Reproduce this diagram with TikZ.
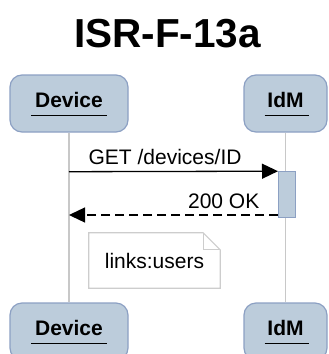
\documentclass[tikz,border=0pt]{standalone}
\usepackage{fontspec}
\setmainfont{Liberation Sans}
\usetikzlibrary{arrows.meta,calc}

\definecolor{actorfill}{RGB}{188,204,219}
\definecolor{actorline}{RGB}{140,160,195}
\definecolor{lifegray}{RGB}{200,200,200}
\definecolor{notegray}{RGB}{205,205,205}

\tikzset{
	actor/.style = {draw = actorline, fill = actorfill, rounded corners = 12pt, line width = 1.2pt,
		font = \fontsize{21}{25}\selectfont\bfseries, text depth = 7.5pt, minimum height = 57pt},
	lifeline/.style = {draw = lifegray, line width = 1.2pt},
	msg/.style = {line width = 1.3pt, -{Triangle[length=16pt, width=15pt]}},
	msglbl/.style = {font = \fontsize{21}{25}\selectfont, inner sep = 0pt},
}

\begin{document}
\begin{tikzpicture}[x = 1pt, y = -1pt]
	
	\useasboundingbox (0, 0) rectangle (329, 354);
	
	\node[anchor = base, font = \fontsize{40.5}{48}\selectfont\bfseries] (title) at (167.5, 47) {ISR-F-13a};
	
	% participants
	\node[actor, minimum width = 118pt] (devTop) at (69, 103.5) {Device};
	\node[actor, minimum width = 83pt] (idmTop) at (285.5, 103.5) {IdM};
	\node[actor, minimum width = 118pt] (devBot) at (69, 331.5) {Device};
	\node[actor, minimum width = 83pt] (idmBot) at (285.5, 331.5) {IdM};
	
	\draw[line width = 1.5pt] ($(devTop.base) + (-38, 8)$) to ($(devTop.base) + (38, 8)$);
	\draw[line width = 1.5pt] ($(idmTop.base) + (-21, 8)$) to ($(idmTop.base) + (23, 8)$);
	\draw[line width = 1.5pt] ($(devBot.base) + (-38, 8)$) to ($(devBot.base) + (38, 8)$);
	\draw[line width = 1.5pt] ($(idmBot.base) + (-21, 8)$) to ($(idmBot.base) + (23, 8)$);
	
	% lifelines
	\draw[lifeline] (devTop.south) to (devBot.north);
	\draw[lifeline] (idmTop.south) to (idmBot.north);
	
	% activation
	\node[draw = actorline, fill = actorfill, line width = 1pt, minimum width = 17pt, minimum height = 46pt, inner sep = 0pt] (act) at (287, 194.7) {};
	
	\coordinate (d1) at (69, 171.7);
	\coordinate (d2) at (69, 215);
	
	\draw[msg] (d1) to node[msglbl, anchor = base west, at start, xshift = 19pt, yshift = 7pt] (getlbl) {GET /devices/ID} (act.north west);
	\draw[msg, dash pattern = on 9pt off 5pt] (act.west |- d2) to node[msglbl, anchor = base east, at start, xshift = -18pt, yshift = 7pt] (oklbl) {200 OK} (d2);
	
	% note
	\node[minimum width = 131pt, minimum height = 55pt, inner sep = 0pt] (note) at (154.5, 260.5) {};
	\draw[notegray, line width = 1.2pt, fill = white] (note.north west) -- ($(note.north east) + (-17, 0)$) -- ($(note.north east) + (0, 17)$) -- (note.south east) -- (note.south west) -- cycle;
	\draw[notegray, line width = 1.2pt] ($(note.north east) + (-17, 0)$) -- ($(note.north east) + (-17, 17)$) -- ($(note.north east) + (0, 17)$);
	\node[msglbl] (notetxt) at (note.center) {links:users};
	
\end{tikzpicture}
\end{document}
